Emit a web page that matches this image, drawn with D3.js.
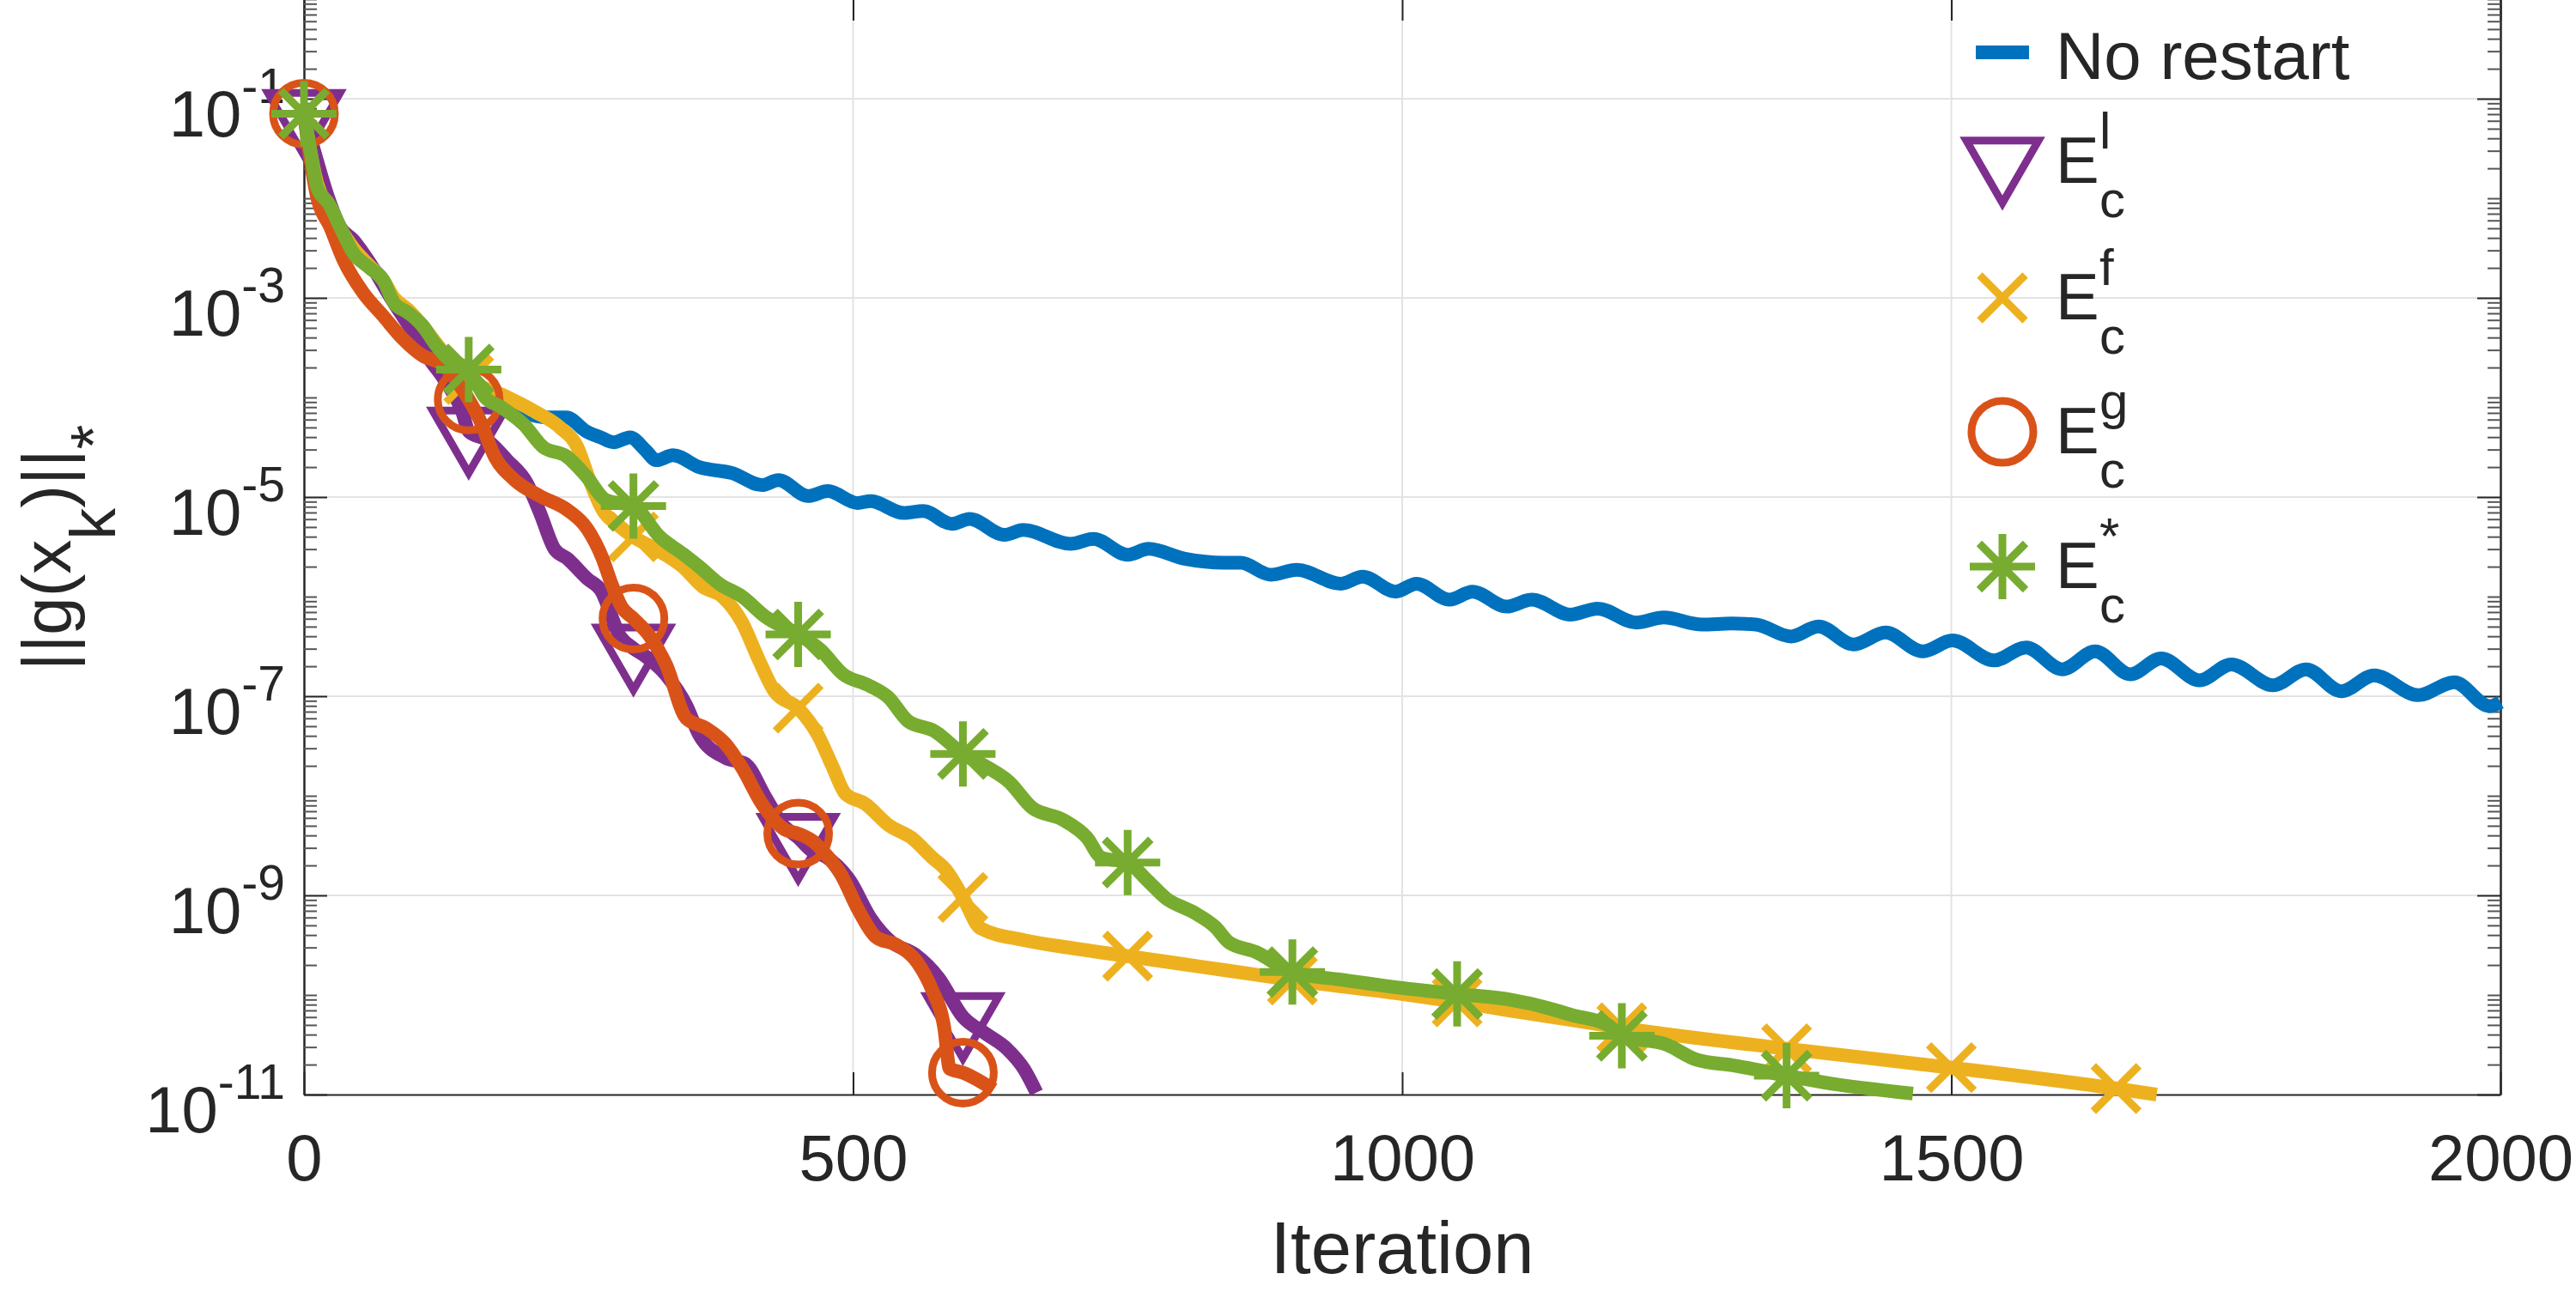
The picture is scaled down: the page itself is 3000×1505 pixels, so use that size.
<!DOCTYPE html>
<html>
<head>
<meta charset="utf-8">
<script src="https://cdn.jsdelivr.net/npm/d3@7"></script>
<style>
  body { margin: 0; background: #fff; }
  svg { display: block; }
  text { font-family: "Liberation Sans", Arial, Helvetica, sans-serif; fill: #262626; }
</style>
</head>
<body>
<svg width="3000" height="1505"></svg>
<script>
// values: iteration, and log10 of ||g(x_k)||_*
var noRestartIter = [0,12,23,33,45,60,72,82,95,108,120,131,150,165,180,200,221,239,257,270,282,297,311,321,336,360,390,417,432,459,477,504,516,546,564,590,606,638,655,698,719,750,769,802,838,853,880,904,944,964,994,1013,1043,1064,1095,1118,1153,1178,1213,1238,1273,1300,1322,1354,1379,1411,1440,1474,1501,1539,1568,1601,1631,1663,1691,1726,1755,1793,1823,1855,1885,1925,1958,1990,2000];
var noRestartLog = [-1.15,-1.85,-2.10,-2.30,-2.52,-2.68,-2.82,-3.02,-3.14,-3.28,-3.46,-3.60,-3.78,-3.95,-4.05,-4.15,-4.20,-4.20,-4.34,-4.40,-4.45,-4.40,-4.53,-4.63,-4.58,-4.70,-4.76,-4.88,-4.83,-4.99,-4.94,-5.06,-5.04,-5.16,-5.14,-5.27,-5.22,-5.38,-5.33,-5.47,-5.42,-5.58,-5.52,-5.62,-5.66,-5.66,-5.78,-5.73,-5.87,-5.80,-5.95,-5.87,-6.03,-5.95,-6.10,-6.03,-6.18,-6.12,-6.26,-6.21,-6.28,-6.27,-6.28,-6.40,-6.30,-6.48,-6.36,-6.55,-6.44,-6.64,-6.51,-6.73,-6.55,-6.78,-6.62,-6.84,-6.68,-6.89,-6.73,-6.95,-6.79,-6.99,-6.86,-7.10,-7.06];

var ecLIter = [0,12,21,33,45,60,78,99,114,129,144,150,167,185,203,215,228,240,258,270,288,300,310,330,348,360,384,402,420,435,450,462,475,497,516,535,556,578,600,621,640,656,667];
var ecLLog = [-1.15,-1.63,-1.96,-2.29,-2.42,-2.65,-2.98,-3.34,-3.61,-3.84,-4.14,-4.34,-4.43,-4.63,-4.86,-5.16,-5.52,-5.62,-5.82,-5.93,-6.40,-6.52,-6.59,-6.79,-7.09,-7.39,-7.62,-7.68,-8.01,-8.28,-8.42,-8.55,-8.61,-8.85,-9.23,-9.47,-9.59,-9.83,-10.22,-10.39,-10.54,-10.75,-10.98];

var ecFIter = [0,12,23,33,45,60,72,82,95,108,120,131,150,180,210,233,249,260,272,287,300,320,345,363,381,399,414,429,450,468,481,493,511,533,553,572,585,600,616,656,700,750,800,838,900,1000,1050,1100,1154,1200,1350,1500,1650,1687];
var ecFLog = [-1.15,-1.85,-2.10,-2.30,-2.50,-2.68,-2.82,-3.00,-3.12,-3.28,-3.45,-3.60,-3.82,-3.97,-4.14,-4.30,-4.50,-4.83,-5.13,-5.29,-5.40,-5.52,-5.70,-5.90,-6.00,-6.26,-6.63,-6.96,-7.12,-7.39,-7.70,-7.98,-8.08,-8.30,-8.42,-8.62,-8.75,-9.02,-9.33,-9.45,-9.53,-9.61,-9.69,-9.75,-9.85,-9.99,-10.07,-10.16,-10.25,-10.33,-10.54,-10.73,-10.94,-11.0];

var ecGIter = [0,12,24,36,54,72,90,108,126,150,159,174,192,215,240,258,272,280,289,300,315,330,348,366,384,399,417,438,450,465,472,489,505,521,540,559,572,583,588,600,628];
var ecGLog = [-1.15,-1.99,-2.29,-2.62,-2.95,-3.18,-3.41,-3.58,-3.67,-4.02,-4.20,-4.60,-4.83,-4.99,-5.13,-5.32,-5.62,-5.87,-6.10,-6.22,-6.40,-6.69,-7.22,-7.32,-7.48,-7.72,-8.08,-8.34,-8.38,-8.47,-8.55,-8.79,-9.15,-9.42,-9.50,-9.68,-9.95,-10.33,-10.74,-10.78,-10.95];

var ecStarIter = [0,6,12,23,33,45,60,72,82,95,108,120,131,150,165,180,200,218,239,257,275,300,324,345,360,378,399,420,450,470,491,514,532,550,574,600,620,642,663,691,713,726,750,768,785,810,830,842,867,900,947,1000,1050,1100,1129,1154,1187,1200,1241,1268,1303,1350,1385,1465];
var ecStarLog = [-1.15,-1.53,-1.89,-2.06,-2.29,-2.55,-2.70,-2.82,-3.05,-3.15,-3.28,-3.47,-3.61,-3.72,-4.00,-4.10,-4.27,-4.50,-4.59,-4.79,-5.03,-5.09,-5.40,-5.57,-5.70,-5.87,-6.00,-6.20,-6.38,-6.53,-6.78,-6.89,-7.01,-7.25,-7.35,-7.58,-7.70,-7.86,-8.12,-8.24,-8.42,-8.62,-8.67,-8.85,-9.03,-9.17,-9.32,-9.47,-9.57,-9.77,-9.85,-9.93,-9.99,-10.05,-10.12,-10.20,-10.30,-10.41,-10.50,-10.65,-10.71,-10.81,-10.88,-10.99];

var seriesColors = ["#0072BD", "#7E2F8E", "#EDB120", "#D95319", "#77AC30"];
var seriesMarkers = ["none", "triangle", "x", "circle", "asterisk"];
var legendBase = ["No restart", "E", "E", "E", "E"];
var legendSup = ["", "l", "f", "g", "*"];
var legendSub = ["", "c", "c", "c", "c"];

var xTicks = [0, 500, 1000, 1500, 2000];
var yTickExp = [-11, -9, -7, -5, -3, -1];
var markerStep = 150;

var svg = d3.select("svg"),
    plotLeft = 354, plotRight = 2912, plotTop = -1, plotBottom = 1275;

var x = d3.scaleLinear().domain([0, 2000]).range([plotLeft, plotRight]);
var y = d3.scaleLog().domain([1e-11, 1]).range([plotBottom, plotTop]);

var yMajor = yTickExp.map(function(e) { return Math.pow(10, e); });
// minor ticks: 1..9 x 10^k that are not labelled
var yMinor = [];
for (var k = -11; k <= 0; k++) {
  for (var m = 1; m <= 9; m++) {
    var v = m * Math.pow(10, k);
    if (v > 1.0000001) continue;
    if (m == 1 && yTickExp.indexOf(k) >= 0) continue;
    yMinor.push(v);
  }
}

// grid
var grid = svg.append("g").attr("stroke", "#e3e3e3").attr("stroke-width", 2);
grid.selectAll("line.v")
  .data(xTicks.slice(1, -1))
  .enter().append("line")
    .attr("x1", function(d) { return x(d); })
    .attr("x2", function(d) { return x(d); })
    .attr("y1", 0).attr("y2", plotBottom);
grid.selectAll("line.h")
  .data(yMajor.slice(1))
  .enter().append("line")
    .attr("x1", plotLeft).attr("x2", plotRight)
    .attr("y1", function(d) { return y(d); })
    .attr("y2", function(d) { return y(d); });

// axes (ticks point inward, MATLAB style)
function styleAxis(g) {
  g.selectAll("path.domain").attr("stroke", "#262626").attr("stroke-width", 2);
  g.selectAll(".tick line").attr("stroke", "#262626").attr("stroke-width", 2);
}
function styleMinor(g) {
  g.selectAll("path.domain").attr("stroke", "#262626").attr("stroke-width", 2);
  g.selectAll(".tick line").attr("stroke", "#555").attr("stroke-width", 2);
}

svg.append("g")
    .attr("transform", "translate(0," + plotBottom + ")")
    .call(d3.axisBottom(x).tickValues(xTicks).tickSize(-26).tickSizeOuter(0).tickPadding(46).tickFormat(d3.format("d")))
    .call(styleAxis)
    .call(function(g) {
      g.selectAll("text")
        .attr("font-family", "Liberation Sans, Arial, sans-serif")
        .attr("font-size", 76)
        .attr("fill", "#262626");
    });

// top edge of the box sits just above the picture
svg.append("g")
    .attr("transform", "translate(0," + (plotTop - 3) + ")")
    .call(d3.axisTop(x).tickValues(xTicks).tickSize(-28).tickSizeOuter(0).tickFormat(""))
    .call(styleAxis);

var yAxisLeft = svg.append("g")
    .attr("transform", "translate(" + plotLeft + ",0)")
    .call(d3.axisLeft(y).tickValues(yMajor).tickSize(-27).tickSizeOuter(0).tickPadding(22).tickFormat(""))
    .call(styleAxis);

yAxisLeft.selectAll(".tick text")
    .attr("dy", null)
    .attr("font-family", "Liberation Sans, Arial, sans-serif")
    .attr("fill", "#262626")
    .each(function(d, i) {
      var t = d3.select(this);
      t.append("tspan").attr("dy", 43).attr("font-size", 76).text("10");
      t.append("tspan").attr("dy", -39).attr("font-size", 57).text(String(yTickExp[i]));
    });

svg.append("g")
    .attr("transform", "translate(" + plotLeft + ",0)")
    .call(d3.axisLeft(y).tickValues(yMinor).tickSize(-15).tickSizeOuter(0).tickFormat(""))
    .call(styleMinor);

svg.append("g")
    .attr("transform", "translate(" + plotRight + ",0)")
    .call(d3.axisRight(y).tickValues(yMajor).tickSize(-27).tickSizeOuter(0).tickFormat(""))
    .call(styleAxis);

svg.append("g")
    .attr("transform", "translate(" + plotRight + ",0)")
    .call(d3.axisRight(y).tickValues(yMinor).tickSize(-15).tickSizeOuter(0).tickFormat(""))
    .call(styleMinor);

// series
var series = [
  { iter: noRestartIter, lg: noRestartLog },
  { iter: ecLIter, lg: ecLLog },
  { iter: ecFIter, lg: ecFLog },
  { iter: ecGIter, lg: ecGLog },
  { iter: ecStarIter, lg: ecStarLog }
].map(function(s, i) {
  return {
    color: seriesColors[i],
    marker: seriesMarkers[i],
    points: d3.zip(s.iter, s.lg.map(function(e) { return Math.pow(10, e); }))
  };
});

var markerPath = {
  triangle: "M-42,-24.2L42,-24.2L0,48.5Z",
  circle: d3.symbol(d3.symbolCircle, Math.PI * 36 * 36)(),
  x: "M-26.5,-26.5L26.5,26.5M-26.5,26.5L26.5,-26.5",
  asterisk: "M-38,0L38,0M0,-38L0,38M-27,-27L27,27M-27,27L27,-27"
};

var line = d3.line()
    .x(function(d) { return x(d[0]); })
    .y(function(d) { return y(d[1]); })
    .curve(d3.curveMonotoneX);

var plot = svg.append("g");
series.forEach(function(s) {
  var g = plot.append("g");
  g.append("path")
      .datum(s.points)
      .attr("fill", "none")
      .attr("stroke", s.color)
      .attr("stroke-width", 16)
      .attr("stroke-linejoin", "round")
      .attr("d", line);
  if (s.marker == "none") return;
  g.selectAll("path.mk")
    .data(s.points.filter(function(d) { return d[0] % markerStep == 0; }))
    .enter().append("path")
      .attr("class", "mk")
      .attr("transform", function(d) { return "translate(" + x(d[0]) + "," + y(d[1]) + ")"; })
      .attr("d", markerPath[s.marker])
      .attr("fill", "none")
      .attr("stroke", s.color)
      .attr("stroke-width", 9)
      .attr("stroke-linejoin", "miter");
});

// legend
var legendRows = [61, 188, 347, 503, 660];
var legend = svg.append("g");
series.forEach(function(s, i) {
  var cy = legendRows[i];
  if (s.marker == "none") {
    legend.append("line")
        .attr("x1", 2301).attr("x2", 2363)
        .attr("y1", cy).attr("y2", cy)
        .attr("stroke", s.color).attr("stroke-width", 16);
    legend.append("text")
        .attr("x", 2394).attr("y", cy + 31)
        .attr("font-size", 78)
        .attr("fill", "#000")
        .text(legendBase[i]);
    return;
  }
  legend.append("path")
      .attr("transform", "translate(2332," + cy + ")")
      .attr("d", markerPath[s.marker])
      .attr("fill", "none")
      .attr("stroke", s.color)
      .attr("stroke-width", 9);
  var base = cy + 25;
  legend.append("text")
      .attr("x", 2394).attr("y", base)
      .attr("font-size", 76).attr("fill", "#000")
      .text(legendBase[i]);
  legend.append("text")
      .attr("x", 2445).attr("y", base - 40)
      .attr("font-size", 60).attr("fill", "#000")
      .text(legendSup[i]);
  legend.append("text")
      .attr("x", 2445).attr("y", base + 40)
      .attr("font-size", 60).attr("fill", "#000")
      .text(legendSub[i]);
});

// axis labels
svg.append("text")
    .attr("x", (plotLeft + plotRight) / 2)
    .attr("y", 1483)
    .attr("text-anchor", "middle")
    .attr("font-size", 85)
    .text("Iteration");

var ylab = svg.append("text")
    .attr("transform", "translate(82,638) rotate(-90)")
    .attr("text-anchor", "middle")
    .attr("font-size", 80);
ylab.append("tspan").text("||g(x");
ylab.append("tspan").attr("dy", 52).attr("font-size", 74).text("k");
ylab.append("tspan").attr("dy", -52).text(")||");
ylab.append("tspan").attr("dy", 52).attr("font-size", 74).text("*");
</script>
</body>
</html>
